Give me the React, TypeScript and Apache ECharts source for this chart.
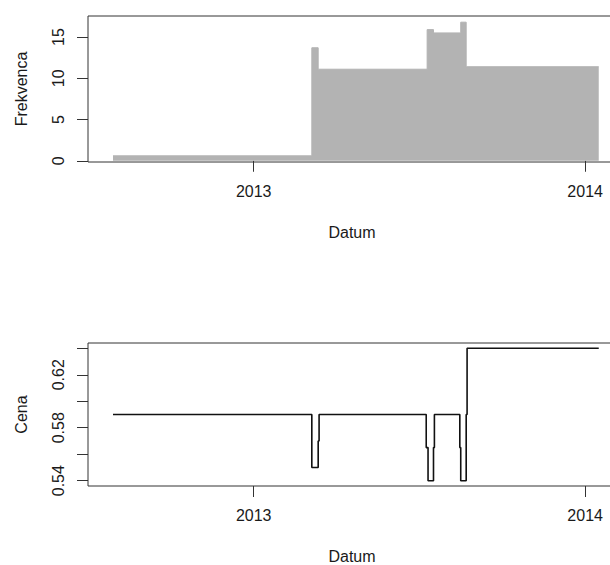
import React, { useEffect, useRef } from "react";
import * as echarts from "echarts";

// Frequency (top panel): value holds from each date until the next one
const freqDates = ["2012-07-30", "2013-03-06", "2013-03-13", "2013-07-11", "2013-07-18", "2013-08-17", "2013-08-23", "2014-01-16"];
const freqValues = [0.6, 13.7, 11.1, 15.9, 15.5, 16.8, 11.4, 11.4];

// Price (bottom panel)
const priceDates = [
  "2012-07-30", "2013-03-06", "2013-03-13", "2013-03-14", "2013-07-10", "2013-07-12",
  "2013-07-18", "2013-07-19", "2013-08-16", "2013-08-17", "2013-08-23", "2013-08-24", "2014-01-16",
];
const priceValues = [0.59, 0.55, 0.57, 0.59, 0.565, 0.54, 0.565, 0.59, 0.565, 0.54, 0.59, 0.64, 0.64];

const yearTicks = ["2013-01-01", "2014-01-01"];
const freqTicks = [0, 5, 10, 15];
const priceTicks = [0.54, 0.56, 0.58, 0.6, 0.62, 0.64];
const priceLabels = [0.54, 0.58, 0.62];

const ts = (s: string) => {
  const [y, m, d] = s.split("-").map(Number);
  return Date.UTC(y, m - 1, d);
};

const FONT = "'Liberation Sans', Arial, sans-serif";
const TXT = "#1a1a1a";
const AX = "#333";

export default function App() {
  const ref = useRef<HTMLDivElement>(null);
  useEffect(() => {
    if (!ref.current) return;
    const chart = echarts.init(ref.current, null, { renderer: "svg" });
    const xMin = Date.UTC(2012, 6, 2, 12);
    const xMax = Date.UTC(2014, 1, 4);
    const yearVals = yearTicks.map(ts);
    const xAxisBase = (gridIndex: number) => ({
      type: "value",
      gridIndex,
      min: xMin,
      max: xMax,
      name: "Datum",
      nameLocation: "middle",
      nameGap: 62,
      nameTextStyle: { fontFamily: FONT, fontSize: 16, color: TXT },
      axisLine: { show: false },
      splitLine: { show: false },
      axisTick: { show: true, length: 11, customValues: yearVals, lineStyle: { color: AX, width: 1 } },
      axisLabel: {
        show: true,
        customValues: yearVals,
        margin: 21,
        fontFamily: FONT,
        fontSize: 16,
        color: TXT,
        formatter: (v: number) => String(new Date(v).getUTCFullYear()),
      },
    });
    chart.setOption({
      animation: false,
      grid: [
        { left: 88, top: 16, width: 528, height: 146, show: true, borderColor: AX, borderWidth: 1, backgroundColor: "transparent" },
        { left: 88, top: 343, width: 528, height: 145, show: true, borderColor: AX, borderWidth: 1, backgroundColor: "transparent" },
      ],
      xAxis: [xAxisBase(0), xAxisBase(1)],
      yAxis: [
        {
          type: "value",
          gridIndex: 0,
          min: -0.15,
          max: 17.55,
          name: "Frekvenca",
          nameLocation: "middle",
          nameGap: 59,
          nameTextStyle: { fontFamily: FONT, fontSize: 16, color: TXT },
          axisLine: { show: false },
          splitLine: { show: false },
          axisTick: { show: true, length: 11, customValues: freqTicks, lineStyle: { color: AX } },
          axisLabel: {
            customValues: freqTicks,
            rotate: 90,
            margin: 22,
            fontFamily: FONT,
            fontSize: 16,
            color: TXT,
          },
        },
        {
          type: "value",
          gridIndex: 1,
          min: 0.536,
          max: 0.644,
          name: "Cena",
          nameLocation: "middle",
          nameGap: 59,
          nameTextStyle: { fontFamily: FONT, fontSize: 16, color: TXT },
          axisLine: { show: false },
          splitLine: { show: false },
          axisTick: { show: true, length: 11, customValues: priceTicks, lineStyle: { color: AX } },
          axisLabel: {
            customValues: priceLabels,
            rotate: 90,
            margin: 22,
            fontFamily: FONT,
            fontSize: 16,
            color: TXT,
            formatter: (v: number) => v.toFixed(2),
          },
        },
      ],
      series: [
        {
          type: "line",
          xAxisIndex: 0,
          yAxisIndex: 0,
          step: "end",
          symbol: "none",
          data: freqDates.map((d, i) => [ts(d), freqValues[i]]),
          lineStyle: { color: "#b3b3b3", width: 1 },
          areaStyle: { color: "#b3b3b3", opacity: 1 },
        },
        {
          type: "line",
          xAxisIndex: 1,
          yAxisIndex: 1,
          step: "end",
          symbol: "none",
          data: priceDates.map((d, i) => [ts(d), priceValues[i]]),
          lineStyle: { color: "#111", width: 1.6 },
        },
      ],
    });
    return () => chart.dispose();
  }, []);
  return (
    <div style={{ position: "fixed", left: 0, top: 0, width: 610, height: 565, overflow: "hidden", background: "#fff" }}>
      <div ref={ref} style={{ width: 630, height: 565 }} />
    </div>
  );
}
